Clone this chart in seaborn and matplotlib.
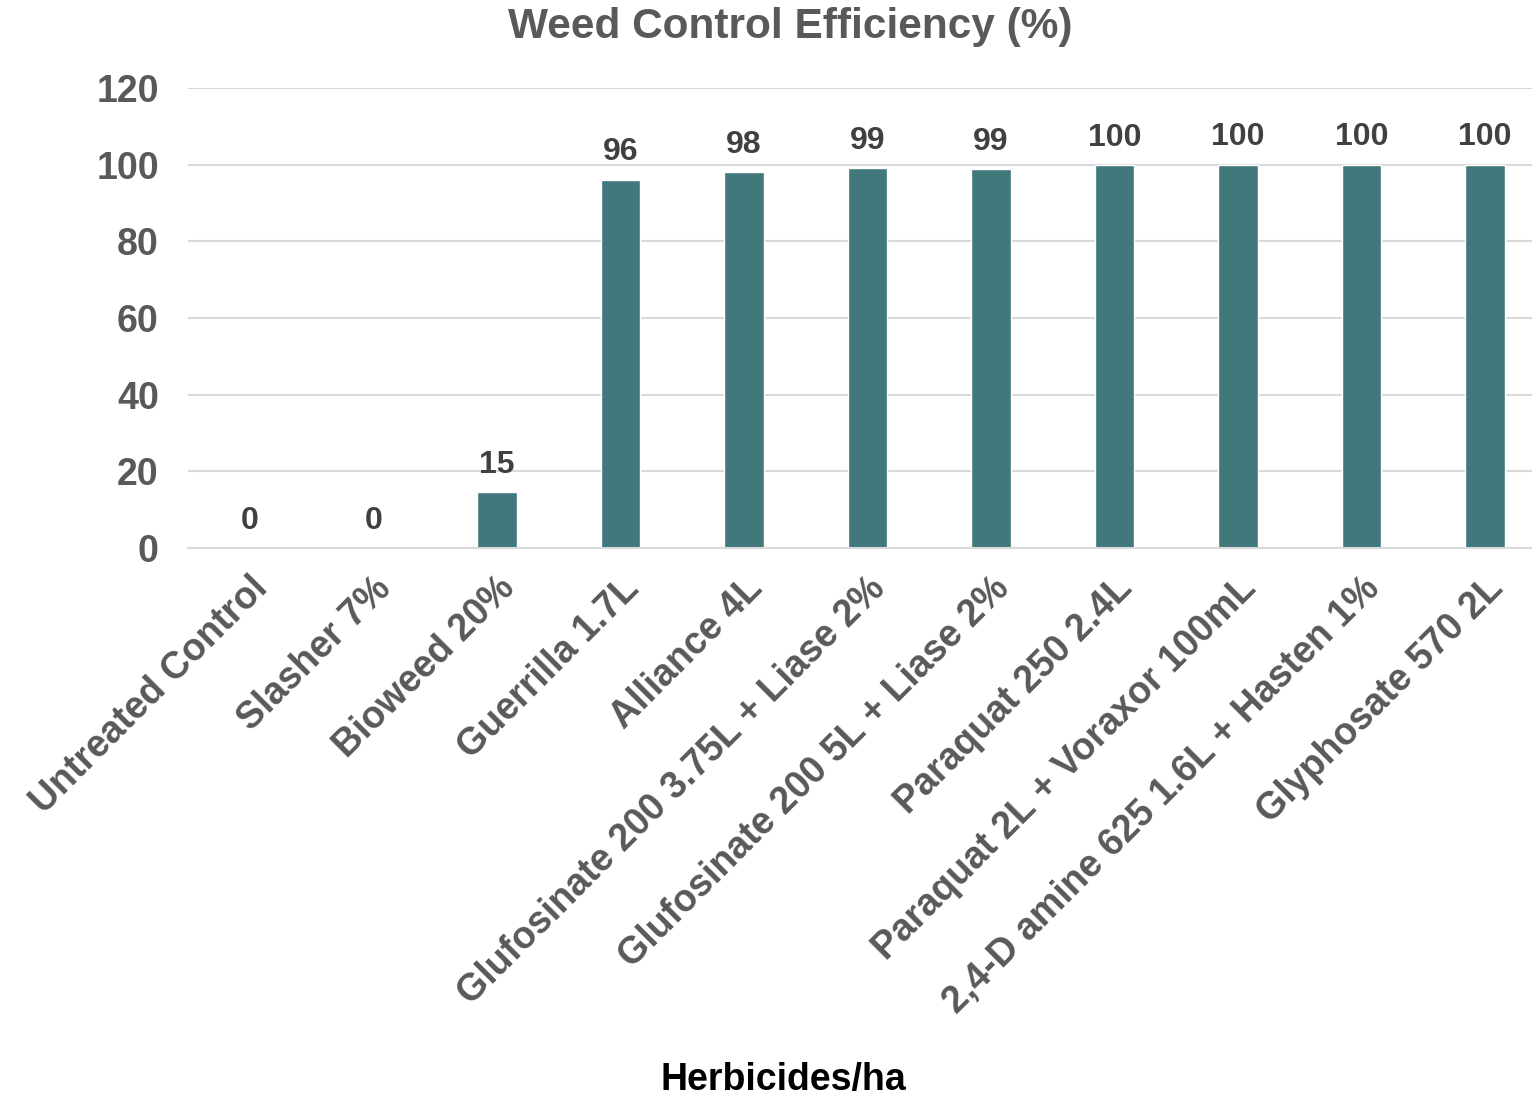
import matplotlib
matplotlib.use("Agg")
import matplotlib.pyplot as plt
import seaborn as sns
import pandas as pd

# Weed control efficiency per herbicide treatment
treatments = ["Untreated Control", "Slasher 7%", "Bioweed 20%", "Guerrilla 1.7L", "Alliance 4L",
              "Glufosinate 200 3.75L + Liase 2%", "Glufosinate 200 5L + Liase 2%", "Paraquat 250 2.4L",
              "Paraquat 2L + Voraxor 100mL", "2,4-D amine 625 1.6L + Hasten 1%", "Glyphosate 570 2L"]
efficiency = [0, 0, 14.5, 96.1, 98.1, 99.1, 98.9, 99.8, 100, 100, 100]
labels = ["0", "0", "15", "96", "98", "99", "99", "100", "100", "100", "100"]

df = pd.DataFrame({"treatment": treatments, "wce": efficiency})

sns.set_style("white")
plt.rcParams["font.family"] = ["Liberation Sans", "DejaVu Sans"]

fig = plt.figure(figsize=(15.32, 10.97), dpi=100)
ax = fig.add_axes([188 / 1532, 1 - 548 / 1097, 1 - 188 / 1532, 460 / 1097])

sns.barplot(data=df, x="treatment", y="wce", color="#41787C", width=0.32, saturation=1, ax=ax)

for i, (v, lab) in enumerate(zip(efficiency, labels)):
    ax.text(i, v + 3.2, lab, ha="center", va="bottom", fontsize=23, fontweight="bold", color="#404040")

ax.set_ylim(0, 120)
ax.set_xlim(-0.5, 10.38)
ax.set_yticks(range(0, 121, 20))
ax.yaxis.grid(True, color="#D9D9D9", linewidth=1.5)
ax.set_axisbelow(True)
for s in ["left", "right", "top"]:
    ax.spines[s].set_visible(False)
ax.spines["bottom"].set_color("#D9D9D9")
ax.spines["bottom"].set_linewidth(1.5)
ax.tick_params(axis="both", length=0)
ax.tick_params(axis="y", pad=21)
ax.set_xlabel("")
ax.set_ylabel("")
plt.setp(ax.get_yticklabels(), fontsize=27, fontweight="bold", color="#595959")
ax.set_xticks(range(len(treatments)))
ax.set_xticklabels(treatments, rotation=45, ha="right", rotation_mode="anchor",
                   fontsize=27, fontweight="bold", color="#595959")
ax.tick_params(axis="x", pad=16)

fig.text(790 / 1532, 1 - 27 / 1097, "Weed Control Efficiency (%)", ha="center", va="center",
         fontsize=30.5, fontweight="bold", color="#595959")
fig.text(783 / 1532, 1 - 1080 / 1097, "Herbicides/ha", ha="center", va="center",
         fontsize=27, fontweight="bold", color="black")

fig.savefig("out.png", dpi=100)
